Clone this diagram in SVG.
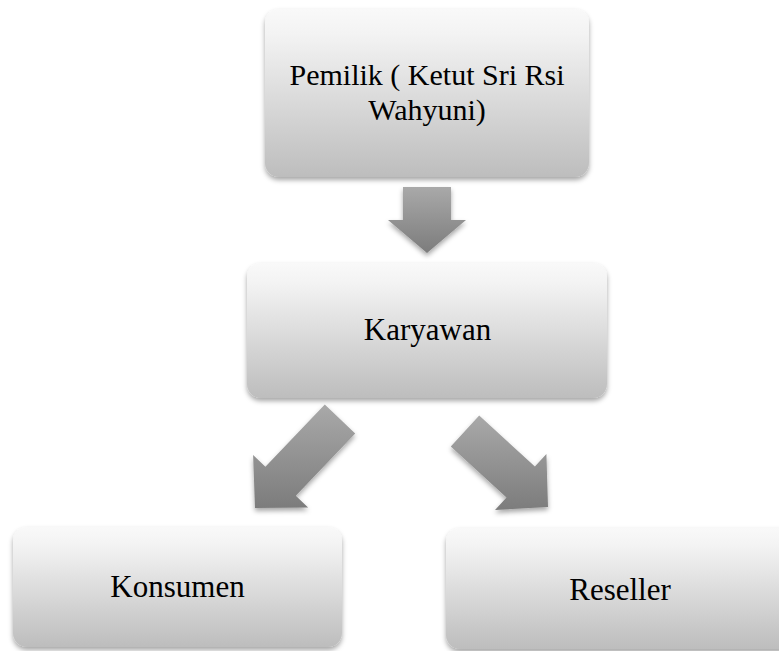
<svg xmlns="http://www.w3.org/2000/svg" width="779" height="651" viewBox="0 0 779 651">
  <defs>
    <linearGradient id="boxGrad" x1="0" y1="0" x2="0" y2="1">
      <stop offset="0" stop-color="#f9f9f9"/>
      <stop offset="0.15" stop-color="#f3f3f3"/>
      <stop offset="1" stop-color="#bdbdbd"/>
    </linearGradient>
    <linearGradient id="arrowGrad" x1="0" y1="0" x2="0" y2="1">
      <stop offset="0" stop-color="#a9a9a9"/>
      <stop offset="1" stop-color="#7c7c7c"/>
    </linearGradient>
    <filter id="shadow" x="-10%" y="-10%" width="120%" height="130%">
      <feDropShadow dx="0" dy="3" stdDeviation="2.5" flood-color="#000" flood-opacity="0.35"/>
    </filter>
  </defs>
  <style>
    .box { fill: url(#boxGrad); filter: url(#shadow); }
    .arrow { fill: url(#arrowGrad); filter: url(#shadow); }
    .label { font-family: "Liberation Serif", "Times New Roman", serif; font-size: 31px; fill: #000; text-anchor: middle; }
    .small { font-size: 30px; }
  </style>

  <g id="connectors">
    <path class="arrow" d="M403,187 L451,187 L451,220 L466,220 L427,253 L388,220 L403,220 Z"/>
    <path class="arrow" d="M324.8,404.5 L265.4,466.7 L253.1,455 L255,508 L308.1,507.5 L295.8,495.7 L355.2,433.5 Z"/>
    <path class="arrow" d="M479.2,415.5 L534.9,466.5 L546.4,454 L548,507 L495,510 L506.5,497.5 L450.8,446.5 Z"/>
  </g>

  <g id="pemilik">
    <rect class="box" x="265" y="9" width="324" height="168" rx="14" ry="14"/>
    <text class="label small" x="427" y="85">Pemilik ( Ketut Sri Rsi</text>
    <text class="label small" x="427" y="120">Wahyuni)</text>
  </g>

  <g id="karyawan">
    <rect class="box" x="247" y="263" width="360" height="135" rx="14" ry="14"/>
    <text class="label" x="427.5" y="340">Karyawan</text>
  </g>

  <g id="konsumen">
    <rect class="box" x="13" y="527" width="329" height="120" rx="14" ry="14"/>
    <text class="label" x="177.5" y="597">Konsumen</text>
  </g>

  <g id="reseller">
    <rect class="box" x="446" y="528" width="348" height="121" rx="14" ry="14"/>
    <text class="label" x="620" y="600">Reseller</text>
  </g>
</svg>
